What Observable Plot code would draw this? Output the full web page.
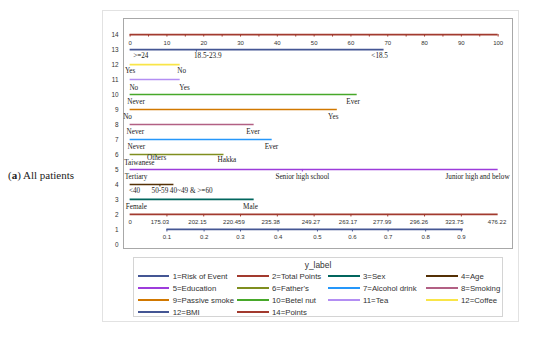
<!DOCTYPE html>
<html><head><meta charset="utf-8">
<script src="https://cdn.jsdelivr.net/npm/d3@7"></script>
<script src="https://cdn.jsdelivr.net/npm/@observablehq/plot@0.6"></script>
<style>
html,body{margin:0;padding:0;background:#fff;}
#root{position:relative;width:550px;height:349px;overflow:hidden;}
#caption{position:absolute;left:8px;top:168.5px;line-height:13px;font-size:11px;font-family:"Liberation Serif","Times New Roman",serif;color:#222;white-space:nowrap;}
#panel{position:absolute;left:102px;top:10px;width:417px;height:312px;border:1px solid #e2e2e2;box-sizing:border-box;}
#chart{position:absolute;left:90px;top:10px;}
#legend{position:absolute;left:133px;top:257px;width:370px;height:60px;border:1px solid #d4d4d4;box-sizing:border-box;font-family:"Liberation Sans",Arial,sans-serif;font-size:7.8px;color:#333;}
#legend .title{position:absolute;left:0;width:100%;top:1px;text-align:center;font-size:8.4px;line-height:12px;}
#legend .item{position:absolute;height:12px;line-height:12px;white-space:nowrap;}
#legend .sw{display:inline-block;width:31.5px;height:2px;vertical-align:middle;margin-right:3.5px;position:relative;top:-1px;}
</style>
</head><body>
<div id="root">
  <div id="caption">(<b>a</b>) All patients</div>
  <div id="panel"></div>
  <div id="chart"></div>
  <div id="legend"><div class="title">y_label</div></div>
</div>
<script>
// ---- data ----
const rowIds = [1,2,3,4,5,6,7,8,9,10,11,12,13,14];
const rowNames = ["Risk of Event","Total Points","Sex","Age","Education","Father's","Alcohol drink","Smoking","Passive smoke","Betel nut","Tea","Coffee","BMI","Points"];
const legendNames = ["1=Risk of Event","2=Total Points","3=Sex","4=Age","5=Education","6=Father's","7=Alcohol drink","8=Smoking","9=Passive smoke","10=Betel nut","11=Tea","12=Coffee","12=BMI","14=Points"];
const lineStart = [10,0,0,0,0,0,0,0,0,0,0,0,0,0];
const lineEnd   = [90.5,100,33.7,11.9,100,25.5,38.6,33.7,56.3,61.7,13.6,13.6,69,100];
const palette = ["#445694","#A23A2E","#01665E","#543005","#9D3CDB","#7F8E1F","#2597FA","#B26084","#D17800","#47A82A","#B38EF3","#F9E548","#445694","#A23A2E"];

// scale rows (sans labels)
const pointsTicks = [0,10,20,30,40,50,60,70,80,90,100];
const pointsMinor = [0,5,10,15,20,25,30,35,40,45,50,55,60,65,70,75,80,85,90,95,100];
const totalLabels = ["0","175.03","202.15","220.459","235.38","249.27","263.17","277.99","296.26","323.75","476.22"];
const totalLabelX = [0,8.1,18.3,28.2,38.2,49.1,59.2,68.5,78.5,88.1,99.7];
const totalTickX = [10,20,30,40,50,60,70,80,90];
const riskLabels = ["0.1","0.2","0.3","0.4","0.5","0.6","0.7","0.8","0.9"];
const riskX = [10,20.1,30,40.2,50.9,60.4,70.1,80.3,90];

// category labels (serif)
const catRow   = [13,13,13, 12,12, 11,11, 10,10, 9,9, 8,8, 7,7, 6,6,6, 5,5,5, 4,4,4, 3,3];
const catText  = [">=24","18.5-23.9","<18.5", "Yes","No", "No","Yes", "Never","Ever", "No","Yes", "Never","Ever", "Never","Ever", "Taiwanese","Others","Hakka", "Tertiary","Senior high school","Junior high and below", "<40","50-59","40~49 & >=60", "Female","Male"];
const catX     = [2.9,21.1,67.8, 0,14, 1,14.8, 1.6,60.6, -0.7,55.2, 1.4,33.4, 1.7,38.4, 2.5,7.2,26.3, 1.6,46.8,94.4, 1.2,8.1,16.6, 1.7,32.7];
const catDrop  = [0.4,0.4,0.4, 0.43,0.43, 0.55,0.55, 0.45,0.45, 0.5,0.5, 0.48,0.48, 0.47,0.47, 0.56,0.2,0.33, 0.47,0.47,0.47, 0.4,0.4,0.4, 0.49,0.49];
const catTickRow = [13,4,6,5];
const catTickX   = [18,8.1,7.2,46.8];

// ---- build tables ----
const rows = rowIds.map((id,i)=>({id, name: rowNames[i], x1: lineStart[i], x2: lineEnd[i], color: palette[i]}));
const colorOf = id => palette[id-1];
const minorTicks = [
  ...pointsMinor.map(x=>({row:14,x})),
  ...totalTickX.map(x=>({row:2,x})),
  ...riskX.map(x=>({row:1,x})),
  ...catTickRow.map((r,i)=>({row:r,x:catTickX[i]}))
];
const sansLabels = [
  ...pointsTicks.map(x=>({row:14,x,text:String(x),drop:0.57})),
  ...totalLabels.map((t,i)=>({row:2,x:totalLabelX[i],text:t,drop:0.52})),
  ...riskLabels.map((t,i)=>({row:1,x:riskX[i],text:t,drop:0.52}))
];
const serifLabels = catText.map((t,i)=>({row:catRow[i], x:catX[i], text:t, drop:catDrop[i]}));

const chart = Plot.plot({
  width: 430, height: 245,
  marginLeft: 33, marginRight: 8, marginTop: 8, marginBottom: 7,
  x: {domain: [-1.8, 103.9], axis: null},
  y: {domain: [-0.27, 15.07], axis: null},
  color: {type: "identity"},
  style: {background: "transparent", fontFamily: "Liberation Sans, Arial, sans-serif"},
  marks: [
    Plot.frame({stroke: "#a8a8a8"}),
    Plot.axisY(d3.range(0, 15), {tickSize: 0, tickPadding: 5, label: null, fontSize: 6.4, fill: "#333", tickFormat: d3.format("d")}),
    Plot.ruleY(rows, {y: "id", x1: "x1", x2: "x2", stroke: "color", strokeWidth: 1.7}),
    Plot.ruleX(minorTicks, {x: "x", y1: "row", y2: "row", insetTop: 0, insetBottom: -2.5, stroke: d => colorOf(d.row), strokeWidth: 1}),
    Plot.text(sansLabels, {x: "x", y: d => d.row - d.drop, text: "text", fontSize: 6, fill: "#333", fontFamily: "Liberation Sans, Arial, sans-serif"}),
    Plot.text(serifLabels, {x: "x", y: d => d.row - d.drop, text: "text", fontSize: 7.2, fill: "#222", fontFamily: "Liberation Serif, Times New Roman, serif"})
  ]
});
document.getElementById("chart").appendChild(chart);

// ---- legend ----
const legend = document.getElementById("legend");
const colLeft = [3.7, 103, 194, 292];
legendNames.forEach((name, i) => {
  const r = Math.floor(i / 4), c = i % 4;
  const el = document.createElement("div");
  el.className = "item";
  el.style.left = colLeft[c] + "px";
  el.style.top = (12.7 + 12 * r) + "px";
  const sw = document.createElement("span");
  sw.className = "sw";
  sw.style.background = palette[i];
  el.appendChild(sw);
  el.appendChild(document.createTextNode(name));
  legend.appendChild(el);
});
</script>
</body></html>
